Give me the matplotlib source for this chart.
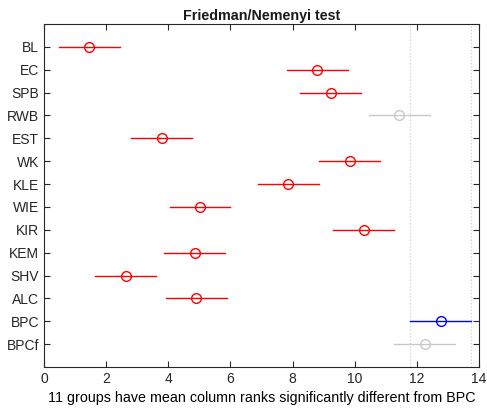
import matplotlib.pyplot as plt
import numpy as np

groups = ["BL", "EC", "SPB", "RWB", "EST", "WK", "KLE", "WIE", "KIR", "KEM",
          "SHV", "ALC", "BPC", "BPCf"]
mean_ranks = [1.46, 8.80, 9.23, 11.43, 3.79, 9.84, 7.86, 5.02, 10.29, 4.85,
              2.63, 4.90, 12.77, 12.26]
half_width = 0.98
# r = significantly different, g = not different, b = reference group
status = ["r", "r", "r", "g", "r", "r", "r", "r", "r", "r", "r", "r", "b", "g"]
ref_group = "BPC"

colors = {"r": "#ff0000", "g": "#c8c8c8", "b": "#0000ff"}

plt.rcParams.update({
    "font.family": ["Liberation Sans", "DejaVu Sans"],
    "font.size": 9,
    "axes.edgecolor": "#262626",
    "xtick.color": "#262626",
    "ytick.color": "#262626",
    "text.color": "#1a1a1a",
})

fig = plt.figure(figsize=(4.87, 4.09), dpi=100)
ax = fig.add_axes([44 / 487, 1 - 367 / 409, 435 / 487, 343 / 409])

ypos = np.arange(1, len(groups) + 1)
for y, m, s in zip(ypos, mean_ranks, status):
    c = colors[s]
    ax.plot([m - half_width, m + half_width], [y, y], color=c, lw=1.0)
    ax.plot(m, y, "o", mfc="none", mec=c, ms=7, mew=1.0)

ref = mean_ranks[groups.index(ref_group)]
for xv in (ref - half_width, ref + half_width):
    ax.axvline(xv, color="#c8c8c8", lw=0.8, ls=(0, (1, 2)))

ax.set_xlim(0, 14)
ax.set_ylim(len(groups) + 1, 0)
ax.set_xticks(np.arange(0, 15, 2))
ax.set_yticks(ypos)
ax.set_yticklabels(groups, fontsize=10)
ax.tick_params(axis="x", labelsize=10)
ax.tick_params(direction="in", top=True, right=True, length=4, width=0.8)
ax.set_title("Friedman/Nemenyi test", fontweight="bold", fontsize=10.3, pad=3)
n_sig = status.count("r")
ax.set_xlabel(f"{n_sig} groups have mean column ranks significantly different from {ref_group}",
              fontsize=10.3, labelpad=4)

fig.savefig("out.png", dpi=100)
